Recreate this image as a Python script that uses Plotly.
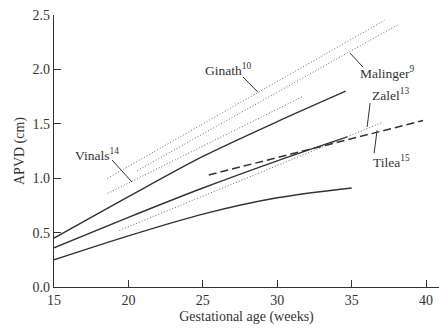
import plotly.graph_objects as go

# ---- data ----
upper_x = [15, 20, 25, 30, 34.6]
upper_y = [0.45, 0.83, 1.20, 1.52, 1.80]
middle_x = [15, 20, 25, 30, 34.7]
middle_y = [0.36, 0.64, 0.91, 1.16, 1.38]
lower_x = [15, 20, 25, 30, 35]
lower_y = [0.25, 0.47, 0.67, 0.82, 0.91]

ginath_x = [18.6, 37.2]
ginath_y = [1.00, 2.45]
malinger_x = [20.6, 38.1]
malinger_y = [1.07, 2.41]
vinals_x = [18.6, 31.7]
vinals_y = [0.86, 1.75]
zalel_x = [19.4, 37.0]
zalel_y = [0.52, 1.51]
tilea_x = [25.4, 39.8]
tilea_y = [1.03, 1.53]

label_names = ["Ginath<sup>10</sup>", "Malinger<sup>9</sup>", "Zalel<sup>13</sup>",
               "Tilea<sup>15</sup>", "Vinals<sup>14</sup>"]
label_x = [25.0, 35.4, 36.2, 36.3, 16.28]
label_y = [1.995, 1.967, 1.77, 1.15, 1.22]
leader_x0 = [27.70, 34.89, 36.24, 36.71, 18.90]
leader_y0 = [1.93, 2.15, 1.69, 1.44, 1.167]
leader_x1 = [28.71, 35.77, 36.04, 36.51, 20.24]
leader_y1 = [1.79, 2.02, 1.47, 1.23, 0.965]

x_ticks = [15, 20, 25, 30, 35, 40]
y_ticks = [0.0, 0.5, 1.0, 1.5, 2.0, 2.5]

INK = "#333333"
FONT = "Liberation Serif, Times New Roman, serif"

fig = go.Figure()
for xs, ys in [(upper_x, upper_y), (middle_x, middle_y), (lower_x, lower_y)]:
    fig.add_trace(go.Scatter(x=xs, y=ys, mode="lines",
                             line=dict(color=INK, width=1.4, shape="spline", smoothing=0.8),
                             showlegend=False, hoverinfo="skip"))
for xs, ys in [(ginath_x, ginath_y), (malinger_x, malinger_y),
               (vinals_x, vinals_y), (zalel_x, zalel_y)]:
    fig.add_trace(go.Scatter(x=xs, y=ys, mode="lines",
                             line=dict(color="#6a6a6a", width=1, dash="1px,2px"),
                             showlegend=False, hoverinfo="skip"))
fig.add_trace(go.Scatter(x=tilea_x, y=tilea_y, mode="lines",
                         line=dict(color=INK, width=1.5, dash="8px,4px"),
                         showlegend=False, hoverinfo="skip"))

for i in range(len(label_names)):
    fig.add_shape(type="line", x0=leader_x0[i], y0=leader_y0[i],
                  x1=leader_x1[i], y1=leader_y1[i],
                  line=dict(color=INK, width=1))
    fig.add_annotation(x=label_x[i], y=label_y[i], text=label_names[i],
                       showarrow=False, xanchor="left", yanchor="middle",
                       font=dict(family=FONT, size=13.5, color=INK))

fig.update_layout(
    width=439, height=331,
    margin=dict(l=54, r=0, t=15, b=44, autoexpand=False),
    paper_bgcolor="white", plot_bgcolor="white",
    font=dict(family=FONT, size=14, color=INK),
)
fig.update_xaxes(range=[15, 40.87], tickvals=x_ticks, ticktext=[str(v) for v in x_ticks],
                 ticks="inside", ticklen=7, tickcolor=INK, tickwidth=1, automargin=False,
                 showline=True, linecolor=INK, linewidth=1.2, showgrid=False, zeroline=False,
                 title=dict(text="Gestational age (weeks)", standoff=4,
                            font=dict(family=FONT, size=14, color=INK)),
                 tickfont=dict(family=FONT, size=14, color=INK))
fig.update_yaxes(range=[0, 2.5], tickvals=y_ticks, ticktext=[f"{v:.1f}" for v in y_ticks],
                 ticks="inside", ticklen=7, tickcolor=INK, tickwidth=1, automargin=False,
                 showline=True, linecolor=INK, linewidth=1.2, showgrid=False, zeroline=False,
                 title=dict(text="APVD (cm)", standoff=4,
                            font=dict(family=FONT, size=14, color=INK)),
                 tickfont=dict(family=FONT, size=14, color=INK))

fig.write_html("out.html", config={"displayModeBar": False},
               post_script="document.body.style.margin='0';")
